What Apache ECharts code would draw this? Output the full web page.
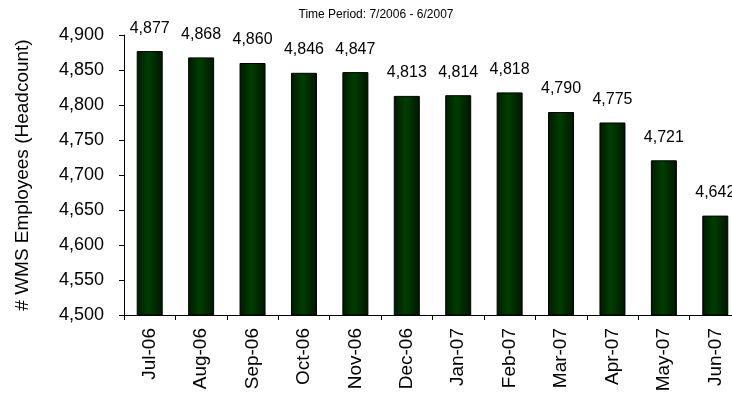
<!DOCTYPE html>
<html>
<head>
<meta charset="utf-8">
<script src="https://cdn.jsdelivr.net/npm/echarts@6/dist/echarts.min.js"></script>
<style>
  html, body { margin: 0; padding: 0; background: #fff; }
  #chart { width: 732px; height: 395px; }
</style>
</head>
<body>
<div id="chart"></div>
<script>
// Monthly headcount, July 2006 through June 2007
const months = ['Jul-06', 'Aug-06', 'Sep-06', 'Oct-06', 'Nov-06', 'Dec-06',
                'Jan-07', 'Feb-07', 'Mar-07', 'Apr-07', 'May-07', 'Jun-07'];
const headcount = [4877, 4868, 4860, 4846, 4847, 4813, 4814, 4818, 4790, 4775, 4721, 4642];
const yMin = 4500;
const yMax = 4900;
const yStep = 50;

const FONT = '"Liberation Sans", Arial, sans-serif';
const fmt = v => v.toLocaleString('en-US');

const chart = echarts.init(document.getElementById('chart'));
chart.setOption({
  animation: false,
  title: {
    text: 'Time Period: 7/2006 - 6/2007',
    left: 371,
    top: 4,
    textAlign: 'center',
    textStyle: { fontFamily: FONT, fontSize: 12, fontWeight: 'normal', color: '#000' }
  },
  // the plot area runs slightly past the right edge of the page
  grid: { left: 124, top: 35, height: 280, width: 617, containLabel: false, outerBoundsMode: 'none' },
  xAxis: {
    type: 'category',
    data: months,
    axisLine: { lineStyle: { color: '#000', width: 1 } },
    axisTick: { show: true, length: 5, alignWithLabel: false, lineStyle: { color: '#000' } },
    axisLabel: { rotate: 90, margin: 13, fontFamily: FONT, fontSize: 19, color: '#000' }
  },
  yAxis: {
    type: 'value',
    min: yMin,
    max: yMax,
    interval: yStep,
    name: '# WMS Employees (Headcount)',
    nameLocation: 'middle',
    nameGap: 92,
    nameTextStyle: { fontFamily: FONT, fontSize: 19, color: '#000' },
    axisLine: { show: true, lineStyle: { color: '#000', width: 1 } },
    axisTick: { show: true, length: 5, lineStyle: { color: '#000' } },
    axisLabel: { margin: 20, fontFamily: FONT, fontSize: 18, color: '#000', formatter: fmt },
    splitLine: { show: false }
  },
  series: [{
    type: 'bar',
    data: headcount,
    barWidth: 26,
    itemStyle: {
      color: new echarts.graphic.LinearGradient(0, 0, 1, 0, [
        { offset: 0, color: '#001a00' },
        { offset: 0.45, color: '#003d00' },
        { offset: 1, color: '#001500' }
      ]),
      borderColor: '#000',
      borderWidth: 1
    },
    label: {
      show: true,
      position: 'top',
      distance: 15,
      fontFamily: FONT,
      fontSize: 16,
      color: '#000',
      formatter: p => fmt(p.value)
    }
  }]
});
</script>
</body>
</html>
